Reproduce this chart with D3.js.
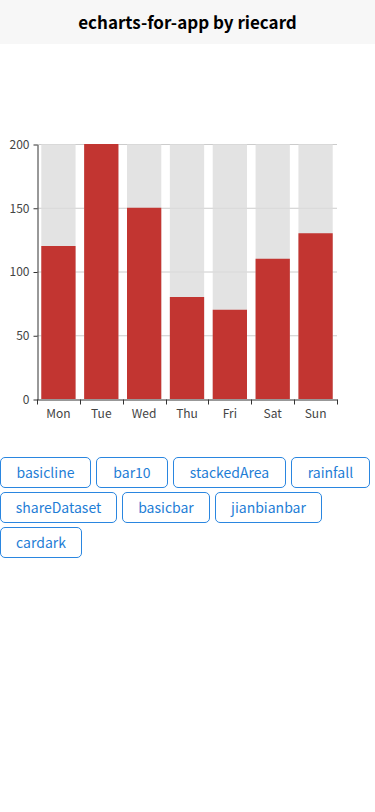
<!DOCTYPE html>
<html>
<head>
<meta charset="utf-8">
<script src="https://cdn.jsdelivr.net/npm/d3@7"></script>
<style>
body{margin:0;background:#fff;font-family:"Noto Sans CJK SC","Noto Sans",sans-serif;}
.header{height:44px;line-height:44px;background:#f7f7f7;text-align:center;font-weight:bold;font-size:17px;color:#000;}
#chart{display:block;}
#btns{margin-top:13px;width:375px;}
.btn{display:inline-block;box-sizing:border-box;height:31px;line-height:29px;border:1px solid #2a86e0;border-radius:5px;color:#1f7ed6;font-size:14px;text-align:center;margin:0 5px 4px 0;vertical-align:top;}
</style>
</head>
<body>
<div class="header">echarts-for-app by riecard</div>
<svg id="chart" width="375" height="400"></svg>
<div id="btns"></div>
<script>
var days=['Mon','Tue','Wed','Thu','Fri','Sat','Sun'];
var values=[120,200,150,80,70,110,130];
var yTicks=[0,50,100,150,200];
var buttons=['basicline','bar10','stackedArea','rainfall','shareDataset','basicbar','jianbianbar','cardark'];
var buttonWidths=[91,72,113,79,117,88,107,82];

var svg=d3.select('#chart');
var top0=100, left=37, right=337, bottom=355; // relative to svg (svg starts at y=44)
var font='"Noto Sans CJK SC","Noto Sans",sans-serif';

var x=d3.scaleBand().domain(days).range([left,right]).paddingInner(0.2).paddingOuter(0.1);
var xb=d3.scaleBand().domain(days).range([left,right]);
var y=d3.scaleLinear().domain([0,200]).range([bottom,top0]);

// grid
svg.append('g').selectAll('line').data(yTicks.slice(1)).enter().append('line')
	.attr('x1',left).attr('x2',right)
	.attr('y1',function(d){return y(d)+0.5}).attr('y2',function(d){return y(d)+0.5})
	.attr('stroke','#ccc');

// background bars
svg.append('g').selectAll('rect').data(days).enter().append('rect')
	.attr('x',function(d){return x(d)})
	.attr('y',y(200))
	.attr('width',x.bandwidth())
	.attr('height',bottom-y(200))
	.attr('fill','rgba(220,220,220,0.8)');

// bars
svg.append('g').selectAll('rect').data(values).enter().append('rect')
	.attr('x',function(d,i){return x(days[i])})
	.attr('y',function(d){return y(d)})
	.attr('width',x.bandwidth())
	.attr('height',function(d){return bottom-y(d)})
	.attr('fill','#c23531');

// y axis
var ya=svg.append('g').attr('transform','translate('+(left+0.5)+',0.5)')
	.call(d3.axisLeft(y).tickValues(yTicks).tickSize(4).tickSizeOuter(0).tickPadding(4));
ya.select('.domain').attr('stroke','#333');
ya.selectAll('line').attr('stroke','#333');
ya.selectAll('text').attr('fill','#444').style('font-size','12px').style('font-family',font);

// x axis
var xa=svg.append('g').attr('transform','translate(0,'+(bottom+0.5)+')')
	.call(d3.axisBottom(xb).tickSize(0).tickPadding(10));
xa.select('.domain').attr('stroke','#333');
xa.selectAll('text').attr('fill','#444').style('font-size','12px').style('font-family',font);
xa.selectAll('line.tk').data(d3.range(days.length+1)).enter().append('line')
	.attr('class','tk')
	.attr('x1',function(i){return Math.round(left+i*xb.step())+0.5})
	.attr('x2',function(i){return Math.round(left+i*xb.step())+0.5})
	.attr('y1',0).attr('y2',5).attr('stroke','#333');

// buttons
d3.select('#btns').selectAll('div').data(buttons).enter().append('div')
	.attr('class','btn')
	.style('width',function(d,i){return buttonWidths[i]+'px'})
	.text(function(d){return d});
</script>
</body>
</html>
